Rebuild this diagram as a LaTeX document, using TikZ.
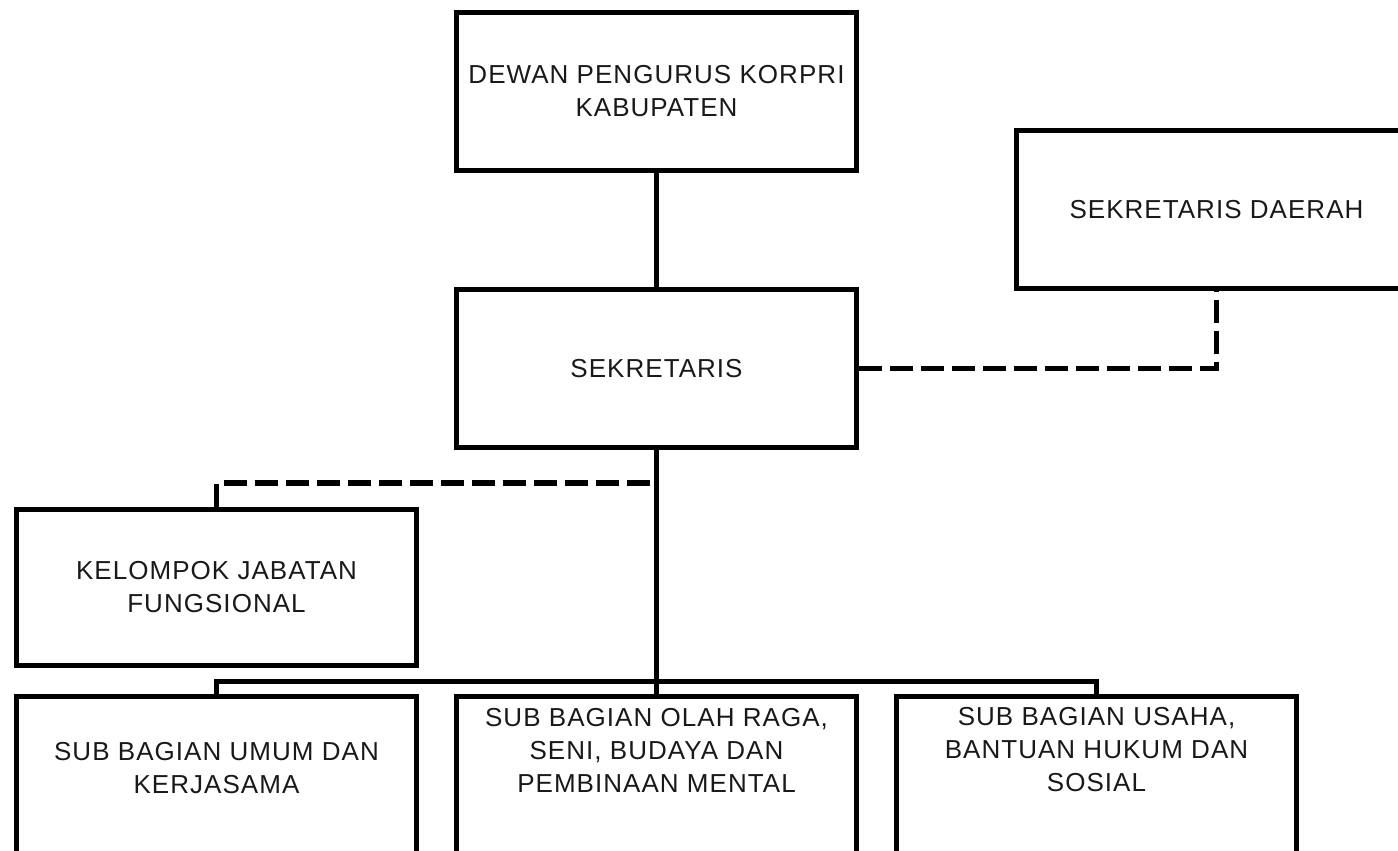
\documentclass[tikz,border=0pt]{standalone}
\usepackage{fontspec}
\setmainfont{Liberation Sans}[LetterSpace=4]
\begin{document}
\begin{tikzpicture}[x=1pt,y=-1pt,
  txt/.style={font=\fontsize{26pt}{33pt}\selectfont, align=center, inner sep=0pt, text=black!90},
  box/.style={draw, line width=5.2pt, minimum width=400pt, minimum height=158pt, inner sep=2pt,
              font=\fontsize{26pt}{33pt}\selectfont, align=center, text=black!90},
  conn/.style={line width=5.2pt},
  dconn/.style={line width=5.5pt, dash pattern=on 23pt off 8pt}]
\useasboundingbox (0,0) rectangle (1398,851);
\clip (0,0) rectangle (1398,851);
\node[box] (dewan) at (656.5,91.5) {DEWAN PENGURUS KORPRI\\KABUPATEN};
\node[box] (sek) at (656.5,368.5) {SEKRETARIS};
\node[box] (sd) at (1216.5,209.5) {SEKRETARIS DAERAH};
\node[box, minimum height=156pt] (kel) at (216.5,587.5) {KELOMPOK JABATAN\\FUNGSIONAL};
\node[box] (b1) at (216.5,775.5) {};
\node[box] (b2) at (656.5,775.5) {};
\node[box] (b3) at (1096.5,775.5) {};
\node[txt] (t1) at (216.5,768) {SUB BAGIAN UMUM DAN\\KERJASAMA};
\node[txt] (t2) at (656.5,750) {SUB BAGIAN OLAH RAGA,\\SENI, BUDAYA DAN\\PEMBINAAN MENTAL};
\node[txt] (t3) at (1096.5,750) {SUB BAGIAN USAHA,\\BANTUAN HUKUM DAN\\SOSIAL};
\coordinate (bus) at (656.5,681.5);
\coordinate (j1) at (656.5,483);
\draw[conn] (dewan.south) -- (sek.north);
\draw[conn] (sek.south) -- (b2.north);
\draw[conn] (b1.north) |- (bus) -| (b3.north);
\draw[dconn] (sek.east) -| (sd.south);
\draw[dconn] (kel.north) |- (j1);
\end{tikzpicture}
\end{document}
